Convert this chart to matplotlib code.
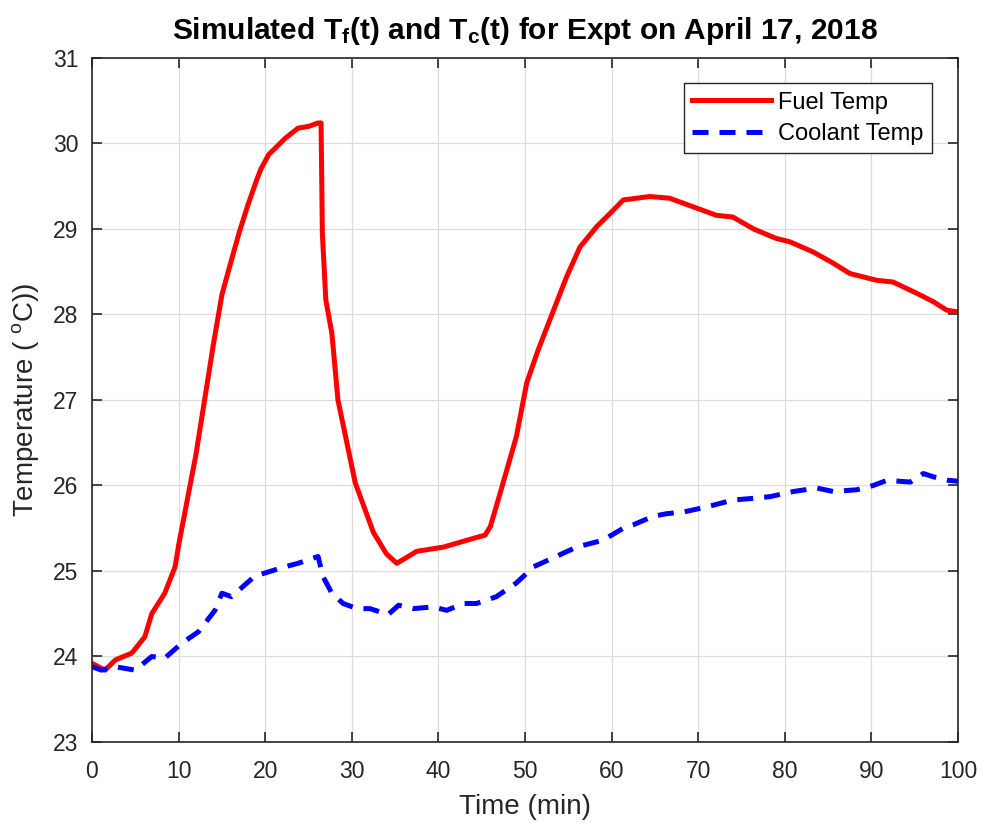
import matplotlib
matplotlib.use("Agg")
import matplotlib.pyplot as plt
import numpy as np

plt.rcParams['font.family'] = ['Liberation Sans', 'DejaVu Sans']
plt.rcParams['mathtext.fontset'] = 'custom'
plt.rcParams['mathtext.rm'] = 'Liberation Sans'
plt.rcParams['mathtext.it'] = 'Liberation Sans'
plt.rcParams['mathtext.bf'] = 'Liberation Sans:bold'

fuel_t = [0, 1.5, 2.7, 4.6, 6.1, 6.9, 8.4, 9.6, 10.0, 11.0, 12.0, 13.0, 14.0, 15.0, 16.0,
          17.0, 18.0, 19.0, 19.5, 20.4, 22.3, 23.8, 25.0, 26.1, 26.45, 26.6, 27.0, 27.7,
          28.4, 30.4, 32.5, 34.0, 35.2, 37.5, 40.6, 43.3, 45.4, 46.0, 47.1, 49.0, 50.2,
          51.5, 53.3, 54.8, 56.35, 58.3, 59.8, 61.35, 64.4, 66.7, 69.4, 72.1, 74.0,
          76.4, 79.0, 80.6, 83.3, 85.6, 87.5, 90.6, 92.5, 95.2, 97.15, 98.7, 100]
fuel_T = [23.92, 23.84, 23.96, 24.04, 24.23, 24.5, 24.74, 25.05, 25.3, 25.83, 26.36, 27.0,
          27.64, 28.23, 28.6, 28.96, 29.28, 29.57, 29.7, 29.87, 30.06, 30.18, 30.2, 30.24,
          30.24, 28.95, 28.17, 27.78, 27.0, 26.03, 25.45, 25.2, 25.09, 25.23, 25.28, 25.36,
          25.42, 25.52, 25.9, 26.57, 27.2, 27.58, 28.05, 28.44, 28.79, 29.03, 29.18, 29.34,
          29.38, 29.36, 29.26, 29.16, 29.14, 29.0, 28.89, 28.85, 28.73, 28.6, 28.48, 28.4,
          28.38, 28.25, 28.15, 28.05, 28.03]

cool_t = [0, 1.1, 2.7, 5.0, 6.9, 8.4, 10.3, 12.3, 14.2, 15.0, 16.1, 18.8, 20.4, 22.3,
          23.8, 26.1, 26.7, 27.7, 29.0, 30.6, 32.1, 34.2, 35.4, 37.1, 39.4, 40.95, 42.9,
          44.4, 46.7, 49.0, 51.0, 53.6, 55.96, 59.0, 61.35, 62.5, 64.8, 66.35, 68.3, 71.0,
          74.0, 76.4, 78.3, 81.0, 83.7, 85.6, 88.3, 90.2, 91.8, 94.5, 96.0, 97.2, 98.9, 100]
cool_T = [23.88, 23.84, 23.88, 23.84, 24.0, 23.98, 24.15, 24.29, 24.54, 24.74, 24.7, 24.94,
          24.99, 25.05, 25.09, 25.17, 24.93, 24.74, 24.62, 24.56, 24.56, 24.49, 24.6, 24.56,
          24.58, 24.54, 24.62, 24.62, 24.7, 24.86, 25.05, 25.17, 25.28, 25.36, 25.5, 25.54,
          25.64, 25.67, 25.69, 25.75, 25.83, 25.85, 25.87, 25.93, 25.97, 25.93, 25.95, 26.0,
          26.06, 26.04, 26.14, 26.1, 26.06, 26.05]

x_ticks = list(range(0, 101, 10))
y_ticks = list(range(23, 32))

fig = plt.figure(figsize=(9.85, 8.3), dpi=100)
ax = fig.add_axes([92/985, 88/830, 866/985, 684/830])

ax.plot(fuel_t, fuel_T, color='#ff0000', lw=3.6, label='Fuel Temp', solid_joinstyle='round')
ax.plot(cool_t, cool_T, color='#0000ff', lw=3.6, ls=(0, (3.2, 2.2)), label='Coolant Temp')

ax.set_xlim(0, 100)
ax.set_ylim(23, 31)
ax.set_xticks(x_ticks)
ax.set_yticks(y_ticks)
ax.grid(True, color='#dcdcdc', lw=0.9)
ax.set_axisbelow(True)
ax.tick_params(direction='in', top=True, right=True, length=7, width=1.2,
               labelsize=16.5, colors='#262626')
ax.tick_params(axis='y', pad=10)
ax.tick_params(axis='x', pad=13)
for s in ax.spines.values():
    s.set_color('#262626')
    s.set_linewidth(1.2)

ax.set_xlabel('Time (min)', fontsize=20, color='#262626', labelpad=8)
ax.set_ylabel('Temperature ( $^{\\mathrm{o}}$C))', fontsize=20, color='#262626', labelpad=8)
ax.set_title('Simulated T$_{\\mathbf{f}}$(t) and T$_{\\mathbf{c}}$(t) for Expt on April 17, 2018',
             fontsize=21.5, fontweight='bold', pad=14)

leg = ax.legend(loc='upper right', bbox_to_anchor=(0.9695, 0.963), fontsize=17,
                fancybox=False, edgecolor='#262626', handlelength=3.35,
                borderpad=0.35, labelspacing=0.4, handletextpad=0.3, framealpha=1,
                borderaxespad=0)
leg.get_frame().set_linewidth(1.0)

fig.savefig('out.png', dpi=100)
